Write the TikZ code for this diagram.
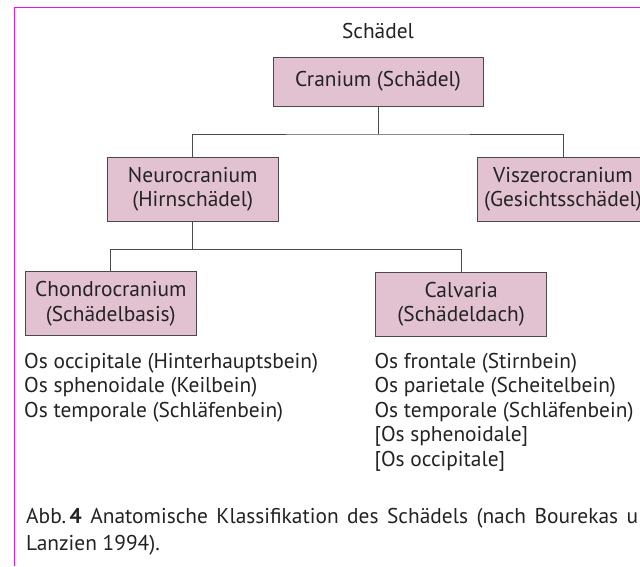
\documentclass[tikz,border=0pt]{standalone}
\usepackage{fontspec}
\setmainfont{PT Sans}
\usepackage{tikz}

\definecolor{boxfill}{RGB}{226,194,208}
\definecolor{boxline}{RGB}{74,74,74}
\definecolor{frame}{RGB}{230,20,230}
\definecolor{ink}{RGB}{35,35,35}

\begin{document}
\begin{tikzpicture}[x=1pt, y=-1pt,
    box/.style={draw=boxline, fill=boxfill, line width=0.9pt, align=center,
        minimum width=171pt, minimum height=64pt, inner sep=0pt, text=ink},
    link/.style={draw=boxline, line width=0.9pt},
    txt/.style={inner sep=0pt, text=ink, align=left}]
            \clip (0,0) rectangle (640,566);
            \fill[white] (0,0) rectangle (640,566);
            \fontsize{21.4}{24.4}\selectfont

            % frame
            \draw[frame, line width=1pt] (14.5,566) -- (14.5,7.3) -- (640,7.3);

            \node[txt] (title) at (378,31) {Schädel};
            \node[box, minimum width=210pt, minimum height=49pt] (cran) at (378,81.7) {Cranium (Schädel)};

            \node[box] (neuro) at (192.7,189) {Neurocranium\\(Hirnschädel)};
            \node[box] (visz) at (563,189) {Viszerocranium\\(Gesichtsschädel)};
            \coordinate (j1) at (378,134);
            \draw[link] (cran) -- (j1);
            \draw[link] (neuro) |- (j1) -| (visz);

            \node[box] (chondro) at (110.8,303.7) {Chondrocranium\\(Schädelbasis)};
            \node[box] (calv) at (461.2,304) {Calvaria\\(Schädeldach)};
            \coordinate (j2) at (192.7,249.3);
            \draw[link] (neuro) -- (j2);
            \draw[link] (chondro) |- (j2) -| (calv);

            \node[txt, anchor=north west] (basis) at (24,353)
                {Os occipitale (Hinterhauptsbein)\\Os sphenoidale (Keilbein)\\Os temporale (Schläfenbein)};
            \node[txt, anchor=north west] (dach) at (374.3,353)
                {Os frontale (Stirnbein)\\Os parietale (Scheitelbein)\\Os temporale (Schläfenbein)\\{[Os sphenoidale]}\\{[Os occipitale]}};

            \node[txt, anchor=north west] (caption) at (26,508)
                {\makebox[612pt][s]{Abb.\,\textbf{4} Anatomische Klassifikation des Schädels (nach Bourekas u}\\[2.3pt]Lanzien 1994).};
        \end{tikzpicture}
\end{document}
